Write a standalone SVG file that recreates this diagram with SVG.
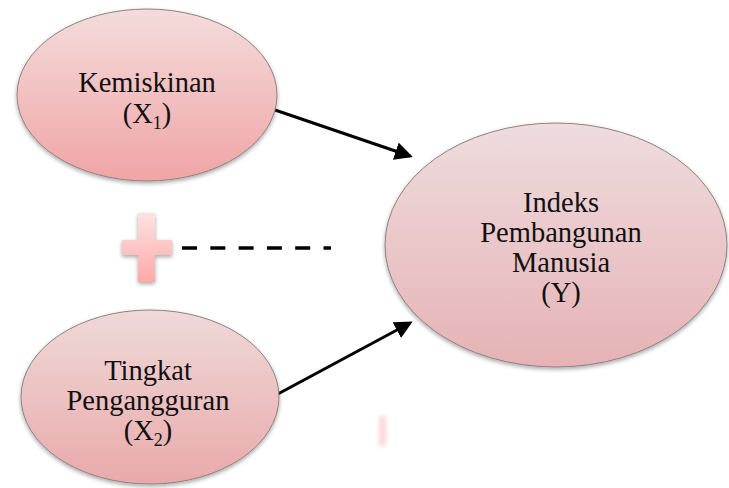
<svg xmlns="http://www.w3.org/2000/svg" width="729" height="488" viewBox="0 0 729 488">
<style>
.node{stroke:#8f8080;stroke-width:1;filter:url(#sh)}
.t{font-family:"Liberation Serif","Times New Roman",serif;font-size:28.5px;fill:#111;text-anchor:middle}
.sub{font-size:18px}
.conn{stroke:#000;stroke-width:3;fill:none}
</style>
<defs>
<linearGradient id="g1" x1="0" y1="0" x2="0" y2="1">
<stop offset="0" stop-color="#f4dcdc"/><stop offset="1" stop-color="#f0a4a5"/>
</linearGradient>
<linearGradient id="g2" x1="0" y1="0" x2="0" y2="1">
<stop offset="0" stop-color="#efd9d9"/><stop offset="1" stop-color="#eaa9aa"/>
</linearGradient>
<linearGradient id="g3" x1="0" y1="0" x2="0" y2="1">
<stop offset="0" stop-color="#eedcde"/><stop offset="1" stop-color="#e6b2b5"/>
</linearGradient>
<linearGradient id="gp" x1="0" y1="0" x2="0" y2="1">
<stop offset="0" stop-color="#ffe2e2"/><stop offset="1" stop-color="#ffa8a8"/>
</linearGradient>
<filter id="sh" x="-10%" y="-10%" width="120%" height="125%">
<feGaussianBlur in="SourceAlpha" stdDeviation="2"/>
<feOffset dx="0" dy="2" result="b"/>
<feComponentTransfer><feFuncA type="linear" slope="0.35"/></feComponentTransfer>
<feMerge><feMergeNode/><feMergeNode in="SourceGraphic"/></feMerge>
</filter>
<filter id="blur" x="-100%" y="-30%" width="300%" height="160%"><feGaussianBlur stdDeviation="2"/></filter>
<marker id="ah" markerWidth="6" markerHeight="6" refX="5" refY="3" orient="auto" markerUnits="strokeWidth">
<path d="M0,0 L6,3 L0,6 Z" fill="#000"/>
</marker>
</defs>
<g id="connectors">
<line class="conn" x1="275" y1="110" x2="410" y2="156" marker-end="url(#ah)"/>
<line class="conn" x1="276" y1="395" x2="410" y2="323" marker-end="url(#ah)"/>
<line x1="182" y1="248" x2="331" y2="248" stroke="#000" stroke-width="3.5" stroke-dasharray="15,13.3"/>
</g>
<g id="plus" filter="url(#sh)">
<path d="M138,213 H155 V240 H172 V255 H155 V282 H138 V255 H122 V240 H138 Z" fill="url(#gp)"/>
</g>
<g id="kemiskinan">
<ellipse class="node" cx="147" cy="95" rx="130" ry="86" fill="url(#g1)"/>
<text class="t" x="147" y="92">Kemiskinan</text>
<text class="t" x="147" y="123">(X<tspan class="sub" dy="6">1</tspan><tspan dy="-6">)</tspan></text>
</g>
<g id="pengangguran">
<ellipse class="node" cx="150" cy="397" rx="129" ry="87" fill="url(#g2)"/>
<text class="t" x="148" y="380">Tingkat</text>
<text class="t" x="148" y="410">Pengangguran</text>
<text class="t" x="148" y="440">(X<tspan class="sub" dy="6">2</tspan><tspan dy="-6">)</tspan></text>
</g>
<g id="ipm">
<ellipse class="node" cx="556" cy="245" rx="171" ry="122" fill="url(#g3)"/>
<text class="t" x="561" y="212">Indeks</text>
<text class="t" x="561" y="242">Pembangunan</text>
<text class="t" x="561" y="272">Manusia</text>
<text class="t" x="561" y="302">(Y)</text>
</g>
<rect x="379" y="416" width="7" height="30" fill="#ffd6da" filter="url(#blur)"/>
</svg>
